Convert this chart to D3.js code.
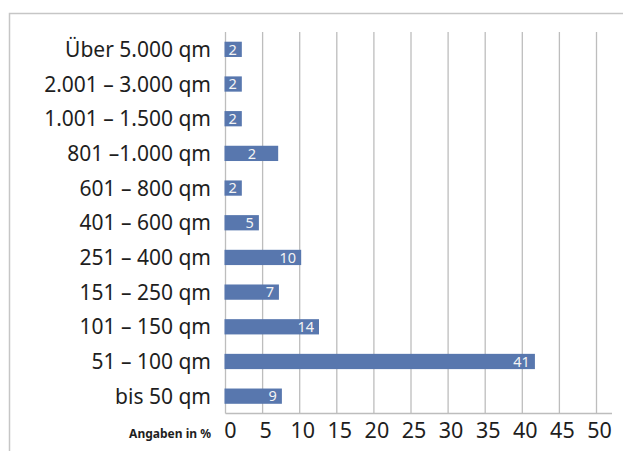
<!DOCTYPE html>
<html><head><meta charset="utf-8">
<script src="https://cdn.jsdelivr.net/npm/d3@7"></script>
<style>body{margin:0;background:#fff}svg{display:block}</style>
</head><body>
<svg id="chart" width="623" height="451"></svg>
<script>
const categories = ["Über 5.000 qm","2.001 – 3.000 qm","1.001 – 1.500 qm","801 –1.000 qm","601 – 800 qm","401 – 600 qm","251 – 400 qm","151 – 250 qm","101 – 150 qm","51 – 100 qm","bis 50 qm"];
// bar lengths as drawn in the picture (percent)
const values = [2.2, 2.2, 2.2, 7.1, 2.2, 4.5, 10.2, 7.2, 12.6, 41.7, 7.6];
// printed value labels
const valueLabels = ["2","2","2","2","2","5","10","7","14","41","9"];
const xTicks = [0,5,10,15,20,25,30,35,40,45,50];
const axisNote = "Angaben in %";

const svg = d3.select("#chart");
const W = 623, H = 451;
const m = {left:225.5, right:596.5, top:32, bottom:413.5};

// frame
svg.append("path")
  .attr("d", `M9.5,${H} V13.5 H${W}`)
  .attr("fill","none").attr("stroke","#c6c6c6").attr("stroke-width",1.5);

const x = d3.scaleLinear().domain([0,50]).range([m.left, m.right]);
const y = d3.scaleBand().domain(categories).range([m.top, m.bottom]).paddingInner(0.56).paddingOuter(0.28);

// gridlines
svg.append("g").selectAll("line").data(xTicks).join("line")
  .attr("x1", d=>x(d)).attr("x2", d=>x(d))
  .attr("y1", m.top).attr("y2", m.bottom)
  .attr("stroke","#bdbdbd").attr("stroke-width",1.3);

// bottom axis line
svg.append("line").attr("x1", m.left).attr("x2", 612)
  .attr("y1", m.bottom).attr("y2", m.bottom)
  .attr("stroke","#bdbdbd").attr("stroke-width",1.5);

// bars
svg.append("g").selectAll("rect").data(values).join("rect")
  .attr("x", x(0) - 1)
  .attr("y", (d,i)=>y(categories[i]))
  .attr("width", d=>x(d)-x(0)+1)
  .attr("height", y.bandwidth())
  .attr("fill","#5877ae");

// value labels
svg.append("g").selectAll("text").data(values).join("text")
  .attr("x", (d,i)=> (+valueLabels[i]*2 < d) ? (x(d)+x(0))/2 : x(d)-5)
  .attr("text-anchor", (d,i)=> (+valueLabels[i]*2 < d) ? "middle" : "end")
  .attr("y", (d,i)=>y(categories[i]) + y.bandwidth()/2)
  .attr("dy","0.36em")
  .attr("fill","#f4f4f4")
  .attr("font-family","Noto Sans, sans-serif")
  .attr("font-size",14.5)
  .text((d,i)=>valueLabels[i]);

// category labels
svg.append("g").selectAll("text").data(categories).join("text")
  .attr("x", 211)
  .attr("y", d=>y(d)+y.bandwidth()/2)
  .attr("dy","0.36em")
  .attr("text-anchor","end")
  .attr("fill","#1e1e1e")
  .attr("font-family","Noto Sans, sans-serif")
  .attr("font-size",21)
  .text(d=>d);

// tick labels
svg.append("g").selectAll("text").data(xTicks).join("text")
  .attr("x", d=>x(d)+ (d===0?5:3))
  .attr("y", 438)
  .attr("text-anchor","middle")
  .attr("fill","#1e1e1e")
  .attr("font-family","Noto Sans, sans-serif")
  .attr("font-size",21.5)
  .text(d=>d);

svg.append("text")
  .attr("x", 211).attr("y", 437.5)
  .attr("text-anchor","end")
  .attr("fill","#1e1e1e")
  .attr("font-family","Noto Sans, sans-serif")
  .attr("font-weight","bold")
  .attr("font-size",12)
  .text(axisNote);
</script>
</body></html>
